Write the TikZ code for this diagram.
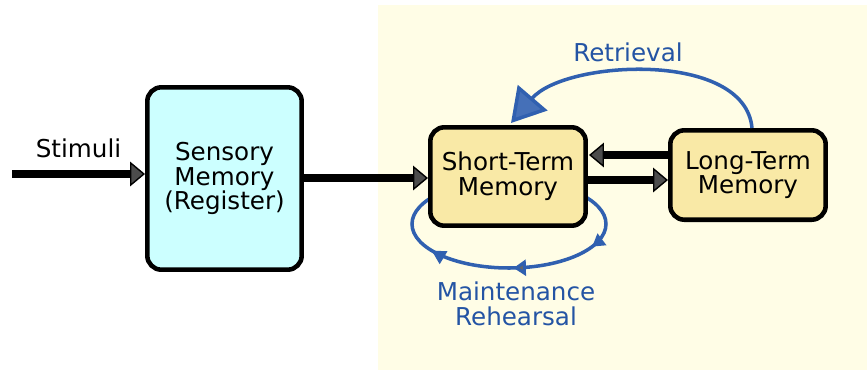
\documentclass[tikz,border=0pt]{standalone}
\usepackage{fontspec}
\setmainfont{DejaVu Sans}
\usetikzlibrary{arrows.meta}
\usetikzlibrary{decorations.markings}
\definecolor{bgyellow}{HTML}{FFFDE6}
\definecolor{sensecyan}{HTML}{CCFFFF}
\definecolor{memtan}{HTML}{F9E9A6}
\definecolor{loopblue}{HTML}{3060B0}
\definecolor{textblue}{HTML}{2454A4}
\newcommand\memtext{\fontsize{14}{14}\selectfont}
\tikzset{
  membox/.style = {draw = black, line width = 2.6pt, rounded corners = 8pt,
    fill = memtan, align = center, font = \memtext, inner sep = 0pt},
  flow/.style = {line width = 4.2pt, -{Triangle[length = 8.5pt, width = 14pt,
    fill = black!70, line width = 0.8pt]}},
  bluelabel/.style = {textblue, align = center, font = \memtext}
}

\begin{document}
\begin{tikzpicture}[x = 0.02cm, y = -0.02cm]
  \useasboundingbox (0, 0) rectangle (867, 370);
  \fill[bgyellow] (378, 5) rectangle (867, 370);

  % the rehearsal loop goes behind the short-term box
  \draw[loopblue, line width = 2pt,
    decoration = {markings,
      mark = at position 0.06 with {\arrow{Triangle[length = 7pt, width = 8pt, fill = loopblue]}},
      mark = at position 0.24 with {\arrow{Triangle[length = 7pt, width = 9pt, fill = black!60]}},
      mark = at position 0.425 with {\arrow{Triangle[length = 8pt, width = 8pt, fill = loopblue]}}},
    postaction = {decorate}]
    (509, 224) ellipse [x radius = 97, y radius = 44];

  \node[membox, fill = sensecyan, minimum width = 3.18cm - 2.6pt,
    minimum height = 3.74cm - 2.6pt] (SM) at (224.5, 178.5)
    {Sensory\\Memory\\(Register)};
  \node[membox, minimum width = 3.2cm - 2.6pt,
    minimum height = 2.06cm - 2.6pt] (STM) at (508, 176.5)
    {Short-Term\\Memory};
  \node[membox, minimum width = 3.2cm - 2.6pt,
    minimum height = 1.88cm - 2.6pt] (LTM) at (748, 175)
    {Long-Term\\Memory};

  \coordinate (In) at (12, 174);
  \coordinate (SMout) at (304, 178);
  \coordinate (STMin) at (428, 178);
  \coordinate (LTMback) at (668, 155);
  \coordinate (STMback) at (589, 155);
  \coordinate (STMout) at (588, 180);
  \coordinate (LTMin) at (668, 180);
  \coordinate (LTMtop) at (752, 128);
  \coordinate (STMtop) at (511, 123);

  \draw[flow] (In) -- (In -| SM.west) node[midway, above = 4pt, font = \memtext] {Stimuli};
  \draw[flow] (SMout) -- (STMin);
  \draw[flow] (LTMback) -- (STMback);
  \draw[flow] (STMout) -- (LTMin);

  % retrieval
  \draw[loopblue, line width = 2pt, -{Triangle[length = 19pt, width = 22pt, fill = loopblue!90]}]
    (LTMtop) .. controls (745, 50) and (565, 60) .. (STMtop);
  \node[bluelabel] (RT) at (628, 52) {Retrieval};
  \node[bluelabel] (MR) at (516, 304) {Maintenance\\Rehearsal};
\end{tikzpicture}
\end{document}
